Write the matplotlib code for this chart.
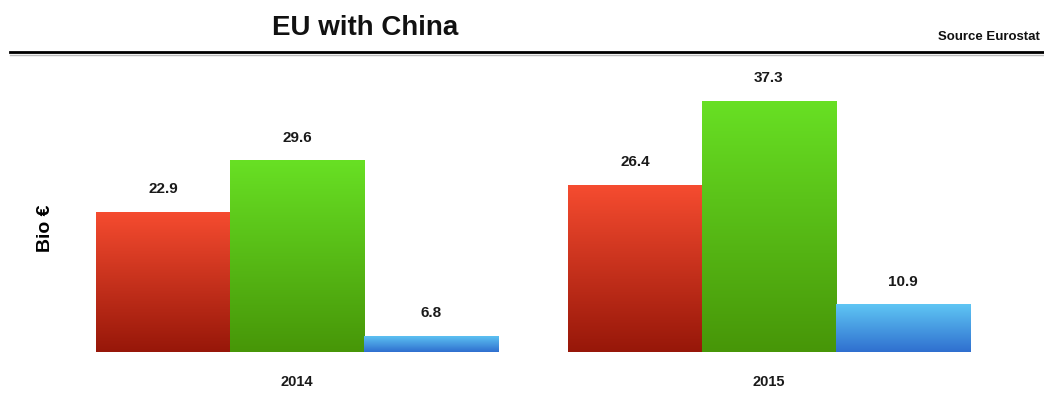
import numpy as np
import matplotlib.pyplot as plt
from matplotlib.colors import LinearSegmentedColormap

years = ["2014", "2015"]
series_a = [22.9, 26.4]   # red
series_b = [29.6, 37.3]   # green
series_c = [6.8, 10.9]    # blue

gradients = [
    ("#f64c30", "#971709"),
    ("#68e024", "#479608"),
    ("#5fc6f4", "#2f6fcf"),
]

plt.rcParams["font.family"] = ["Liberation Sans", "DejaVu Sans"]

fig = plt.figure(figsize=(10.44, 3.94), dpi=100)
ax = fig.add_axes([40 / 1044, 42 / 394, 990 / 1044, 282 / 394])

x = np.arange(len(years))
w = 0.284
ymin = 4.7

for i, (vals, (top_c, bot_c)) in enumerate(zip([series_a, series_b, series_c], gradients)):
    bars = ax.bar(x + (i - 1) * w, np.array(vals) - ymin, w, bottom=ymin,
                  color="none", edgecolor="none")
    cmap = LinearSegmentedColormap.from_list("g%d" % i, [bot_c, top_c])
    grad = np.linspace(0, 1, 256).reshape(-1, 1)
    for b, v in zip(bars, vals):
        x0 = b.get_x()
        im = ax.imshow(grad, cmap=cmap, origin="lower", aspect="auto",
                       extent=(x0, x0 + b.get_width(), ymin, v), zorder=2)
        im.set_clip_path(b)
        ax.text(x0 + b.get_width() / 2, v + 2.0, f"{v:.1f}", ha="center",
                va="bottom", fontsize=11, fontweight="bold", color="#1a1a1a")

ax.set_xlim(-0.5445, 1.553)
ax.set_ylim(ymin, 41.3)
ax.axis("off")

for xi, yr in zip(x, years):
    ax.text(xi, ymin - 3.9, yr, ha="center", va="center", fontsize=10.5,
            fontweight="bold", color="#1a1a1a")

fig.text(45 / 1044, 1 - 228 / 394, "Bio €", rotation=90, ha="center", va="center",
         fontsize=14, fontweight="bold")
fig.text(365 / 1044, 1 - 28 / 394, "EU with China", ha="center", va="center",
         fontsize=20, fontweight="bold", color="#111111")
fig.text(1040 / 1044, 1 - 37 / 394, "Source Eurostat", ha="right", va="center",
         fontsize=9.5, fontweight="bold", color="#111111")

fig.add_artist(plt.Line2D([10 / 1044, 1.0], [1 - 52 / 394] * 2, color="black", lw=2))
fig.add_artist(plt.Line2D([10 / 1044, 1.0], [1 - 55 / 394] * 2, color="#bbbbbb", lw=1))

fig.savefig("out.png", dpi=100)
